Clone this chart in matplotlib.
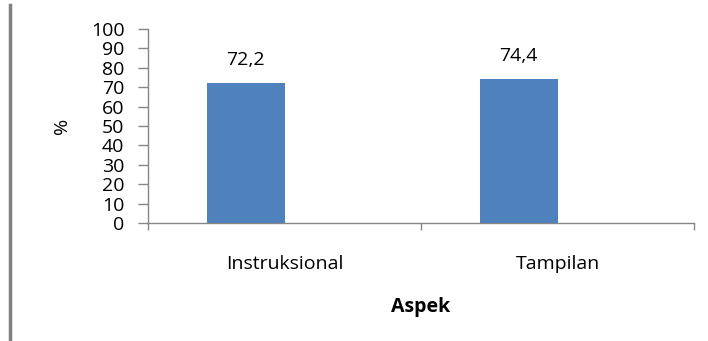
import numpy as np
import matplotlib.pyplot as plt
from matplotlib.lines import Line2D

categories = ["Instruksional", "Tampilan"]
values = [72.2, 74.4]
value_labels = ["72,2", "74,4"]
yticks = list(range(0, 101, 10))

plt.rcParams['font.family'] = ['Open Sans', 'DejaVu Sans']
fs = 14

fig = plt.figure(figsize=(7.08, 3.41), dpi=100)
ax = fig.add_axes([148 / 708, 1 - 223 / 341, 546 / 708, 194 / 341])

x = np.arange(len(categories))
bw = 78 / 273
bars = ax.bar(x - bw / 2, values, width=bw, color="#4F81BD")
for xi, v, lab in zip(x, values, value_labels):
    ax.text(xi - bw / 2, v + 7, lab, ha="center", va="bottom", fontsize=fs)

ax.set_xlim(-0.5, 1.5)
ax.set_ylim(0, 100)
ax.set_yticks(yticks)
ax.set_yticklabels([str(t) for t in yticks], fontsize=fs)
ax.tick_params(axis="y", length=7, width=1, color="#868686", pad=10)

ax.set_xticks([-0.5, 0.5, 1.5])
ax.set_xticklabels([])
ax.tick_params(axis="x", which="major", length=5, width=1, color="#868686")
ax.set_xticks(x, minor=True)
ax.set_xticklabels(categories, minor=True, fontsize=fs)
ax.tick_params(axis="x", which="minor", length=0, pad=23)

for s in ["top", "right"]:
    ax.spines[s].set_visible(False)
for s in ["left", "bottom"]:
    ax.spines[s].set_color("#868686")
    ax.spines[s].set_linewidth(1)

ax.set_xlabel("Aspek", fontsize=fs, fontweight="bold", labelpad=17)
ax.set_ylabel("%", fontsize=fs, labelpad=14)

fig.add_artist(Line2D([9.5 / 708, 9.5 / 708], [0, 1 - 5 / 341],
                      transform=fig.transFigure, color="#808080", linewidth=2.5))

fig.savefig("out.png", dpi=100)
